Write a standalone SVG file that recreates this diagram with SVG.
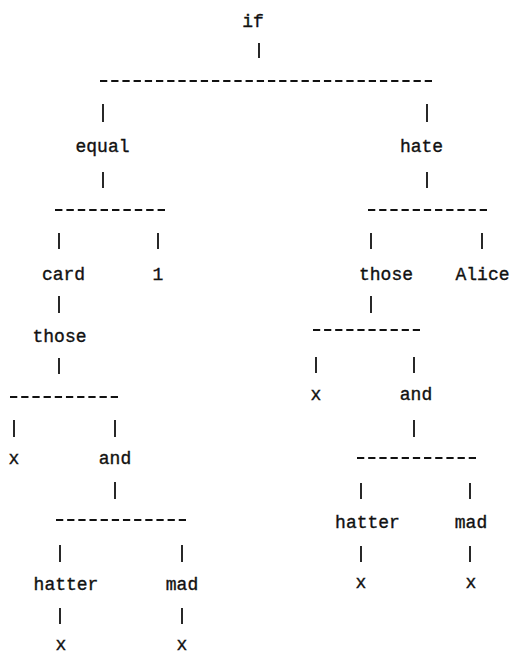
<svg xmlns="http://www.w3.org/2000/svg" width="512" height="654" viewBox="0 0 512 654">
<style>
text{font-family:"Liberation Mono","DejaVu Sans Mono",monospace;font-size:18px;fill:#111;stroke:#111;stroke-width:0.35;text-anchor:middle}
.p{stroke:#111;stroke-width:1.8;fill:none}
.d{stroke:#111;stroke-width:2;stroke-dasharray:0.65 0.35;fill:none}
</style>
<rect width="512" height="654" fill="#fff"/>
<g id="connectors">
<line class="p" x1="259" y1="43" x2="259" y2="58"/>
<line class="d" x1="100" y1="81" x2="432" y2="81" pathLength="29.65"/>
<line class="p" x1="103" y1="104" x2="103" y2="122"/>
<line class="p" x1="427" y1="104" x2="427" y2="122"/>
<line class="p" x1="103" y1="172" x2="103" y2="188"/>
<line class="p" x1="427" y1="172" x2="427" y2="188"/>
<line class="d" x1="55" y1="210" x2="165" y2="210" pathLength="9.65"/>
<line class="d" x1="368" y1="210" x2="487" y2="210" pathLength="10.65"/>
<line class="p" x1="59" y1="233" x2="59" y2="249"/>
<line class="p" x1="158" y1="233" x2="158" y2="249"/>
<line class="p" x1="371" y1="233" x2="371" y2="249"/>
<line class="p" x1="482" y1="233" x2="482" y2="249"/>
<line class="p" x1="59" y1="296" x2="59" y2="313"/>
<line class="p" x1="371" y1="296" x2="371" y2="313"/>
<line class="d" x1="313" y1="330" x2="420" y2="330" pathLength="9.65"/>
<line class="p" x1="59" y1="358" x2="59" y2="374"/>
<line class="p" x1="316" y1="357" x2="316" y2="373"/>
<line class="p" x1="414" y1="357" x2="414" y2="373"/>
<line class="d" x1="10" y1="397" x2="118" y2="397" pathLength="9.65"/>
<line class="p" x1="14" y1="420" x2="14" y2="437"/>
<line class="p" x1="115" y1="420" x2="115" y2="437"/>
<line class="p" x1="414" y1="420" x2="414" y2="437"/>
<line class="d" x1="357" y1="458" x2="476" y2="458" pathLength="10.65"/>
<line class="p" x1="115" y1="482" x2="115" y2="499"/>
<line class="p" x1="361" y1="483" x2="361" y2="499"/>
<line class="p" x1="470" y1="483" x2="470" y2="499"/>
<line class="d" x1="56" y1="520" x2="186" y2="520" pathLength="11.65"/>
<line class="p" x1="60" y1="545" x2="60" y2="562"/>
<line class="p" x1="182" y1="545" x2="182" y2="562"/>
<line class="p" x1="361" y1="546" x2="361" y2="562"/>
<line class="p" x1="470" y1="546" x2="470" y2="562"/>
<line class="p" x1="60" y1="608" x2="60" y2="624"/>
<line class="p" x1="182" y1="608" x2="182" y2="624"/>
</g>
<g id="n-if"><text x="253" y="27">if</text></g>
<g id="n-equal"><text x="102.5" y="152">equal</text></g>
<g id="n-hate"><text x="421.5" y="152">hate</text></g>
<g id="n-card"><text x="63.5" y="280">card</text></g>
<g id="n-one"><text x="158" y="280">1</text></g>
<g id="n-those-r"><text x="386" y="280">those</text></g>
<g id="n-alice"><text x="482.5" y="280">Alice</text></g>
<g id="n-those-l"><text x="59.5" y="342">those</text></g>
<g id="n-x-r"><text x="316" y="400">x</text></g>
<g id="n-and-r"><text x="416" y="400">and</text></g>
<g id="n-x-l"><text x="14" y="464">x</text></g>
<g id="n-and-l"><text x="115" y="464">and</text></g>
<g id="n-hatter-r"><text x="367.5" y="528">hatter</text></g>
<g id="n-mad-r"><text x="471" y="528">mad</text></g>
<g id="n-x-r1"><text x="361" y="588">x</text></g>
<g id="n-x-r2"><text x="471" y="588">x</text></g>
<g id="n-hatter-l"><text x="66" y="590">hatter</text></g>
<g id="n-mad-l"><text x="182" y="590">mad</text></g>
<g id="n-x-l1"><text x="61" y="650">x</text></g>
<g id="n-x-l2"><text x="182" y="650">x</text></g>
</svg>
